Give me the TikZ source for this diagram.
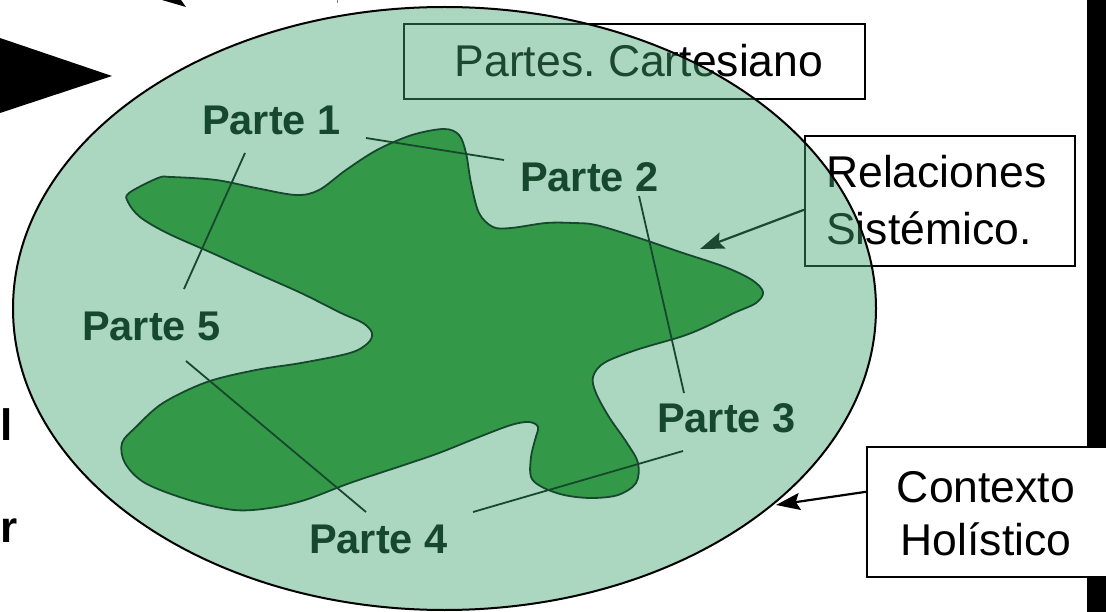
\documentclass[tikz,border=0pt]{standalone}
\usepackage{fontspec}
\setmainfont{Liberation Sans}
\usetikzlibrary{arrows.meta}
\frenchspacing
\definecolor{ellG}{RGB}{66,163,111}
\definecolor{blobG}{RGB}{51,153,72}
\definecolor{dkG}{RGB}{22,72,46}
\tikzset{
  lbl/.style={font=\fontsize{41.5}{41.5}\selectfont\bfseries, text=dkG, inner sep=0pt, anchor=base west},
  conn/.style={draw=dkG, line width=1.8pt},
  box/.style={draw=black, line width=1.6pt, fill=white, inner sep=0pt},
  boxtxt/.style={font=\fontsize{44.5}{57}\selectfont, inner sep=0pt},
  pointer/.style={line width=2.2pt, -{Stealth[length=24pt,width=17pt,inset=4pt]}},
  cut/.style={font=\fontsize{44}{44}\selectfont\bfseries, inner sep=0pt, anchor=base west},
}
\begin{document}
\begin{tikzpicture}[x=1pt,y=-1pt]
\useasboundingbox (0,0) rectangle (1106,612);
\fill[white] (0,0) rectangle (1106,612);
% black fragments
\fill[black] (0,38) -- (112,76) -- (0,113) -- cycle;
\fill[black] (162,0) -- (186,7) -- (181,0) -- cycle;
\draw[gray, line width=0.6pt] (337,0) -- (337,3);
\fill[black] (1087,0) rectangle (1106,612);
% boxes under the ellipse
\node[box, minimum width=461pt, minimum height=75pt, anchor=north west] (pbox) at (403,23) {};
\node[boxtxt, anchor=base] (ptxt) at (639,77) {Partes.\ Cartesiano};
\node[box, minimum width=270pt, minimum height=130pt, anchor=north west] (relbox) at (804,135) {};
\node[boxtxt, align=left, anchor=base west] (reltxt) at (826,245) {Relaciones\\Sistémico.};
\coordinate (relTip) at (700,249);
\draw[pointer] ([yshift=-9pt]relbox.west) -- (relTip);
% ellipse (context)
\draw[fill=ellG, fill opacity=0.44, draw=black, line width=2pt] (444.5,308.5) ellipse [x radius=431.5pt, y radius=301.5pt];
% blob
\draw[fill=blobG, draw=dkG, line width=1.8pt] plot[smooth cycle, tension=0.55] coordinates {
(129,193) (158,178) (171,177) (216,180) (256,188) (296,195) (319,190) (346,170)
(377,150) (412,135) (444,129) (459,135) (466,153) (471,183) (479,213) (493,227)
(511,228) (546,223) (573,223) (596,225) (636,237) (680,252) (725,267) (752,280)
(763,292) (756,303) (734,313) (703,328) (680,337) (636,350) (604,363) (593,377)
(596,393) (609,417) (627,443) (638,463) (636,483) (618,495) (591,498) (564,495)
(542,487) (531,477) (531,457) (535,440) (538,427) (529,422) (511,425) (479,437)
(439,453) (404,465) (350,483) (305,500) (270,508) (234,510) (189,500) (145,483)
(125,463) (122,443) (136,427) (163,403) (207,382) (256,370) (301,363) (350,353)
(368,343) (372,333) (363,323) (341,313) (301,293) (256,273) (212,253) (167,233)
(140,217) (128,202)};
% part labels
\node[lbl] (p1) at (202,135) {Parte 1};
\node[lbl] (p2) at (520,192) {Parte 2};
\node[lbl] (p3) at (657,432) {Parte 3};
\node[lbl] (p4) at (309,553) {Parte 4};
\node[lbl] (p5) at (82,341) {Parte 5};
\coordinate (a12) at (366,138); \coordinate (b12) at (504,160);
\coordinate (a15) at (245,153); \coordinate (b15) at (184,289);
\coordinate (a23) at (639,196); \coordinate (b23) at (684,393);
\coordinate (a54) at (186,361); \coordinate (b54) at (366,512);
\coordinate (a34) at (683,451); \coordinate (b34) at (473,512);
\draw[conn] (a12) -- (b12);
\draw[conn] (a15) -- (b15);
\draw[conn] (a23) -- (b23);
\draw[conn] (a54) -- (b54);
\draw[conn] (a34) -- (b34);
% context box
\node[box, minimum width=250pt, minimum height=130pt, anchor=north west] (ctxbox) at (866,446) {};
\node[boxtxt, align=center, anchor=base, font=\fontsize{44.5}{53}\selectfont] (ctxtxt) at (986,555) {Contexto\\Holístico};
\coordinate (ctxTip) at (776,505);
\draw[pointer] ([yshift=20pt]ctxbox.west) -- (ctxTip);
% cut-off text at left edge
\node[cut] (cutl) at (0,440) {l};
\node[cut] (cutr) at (0,542) {r};
\end{tikzpicture}
\end{document}
